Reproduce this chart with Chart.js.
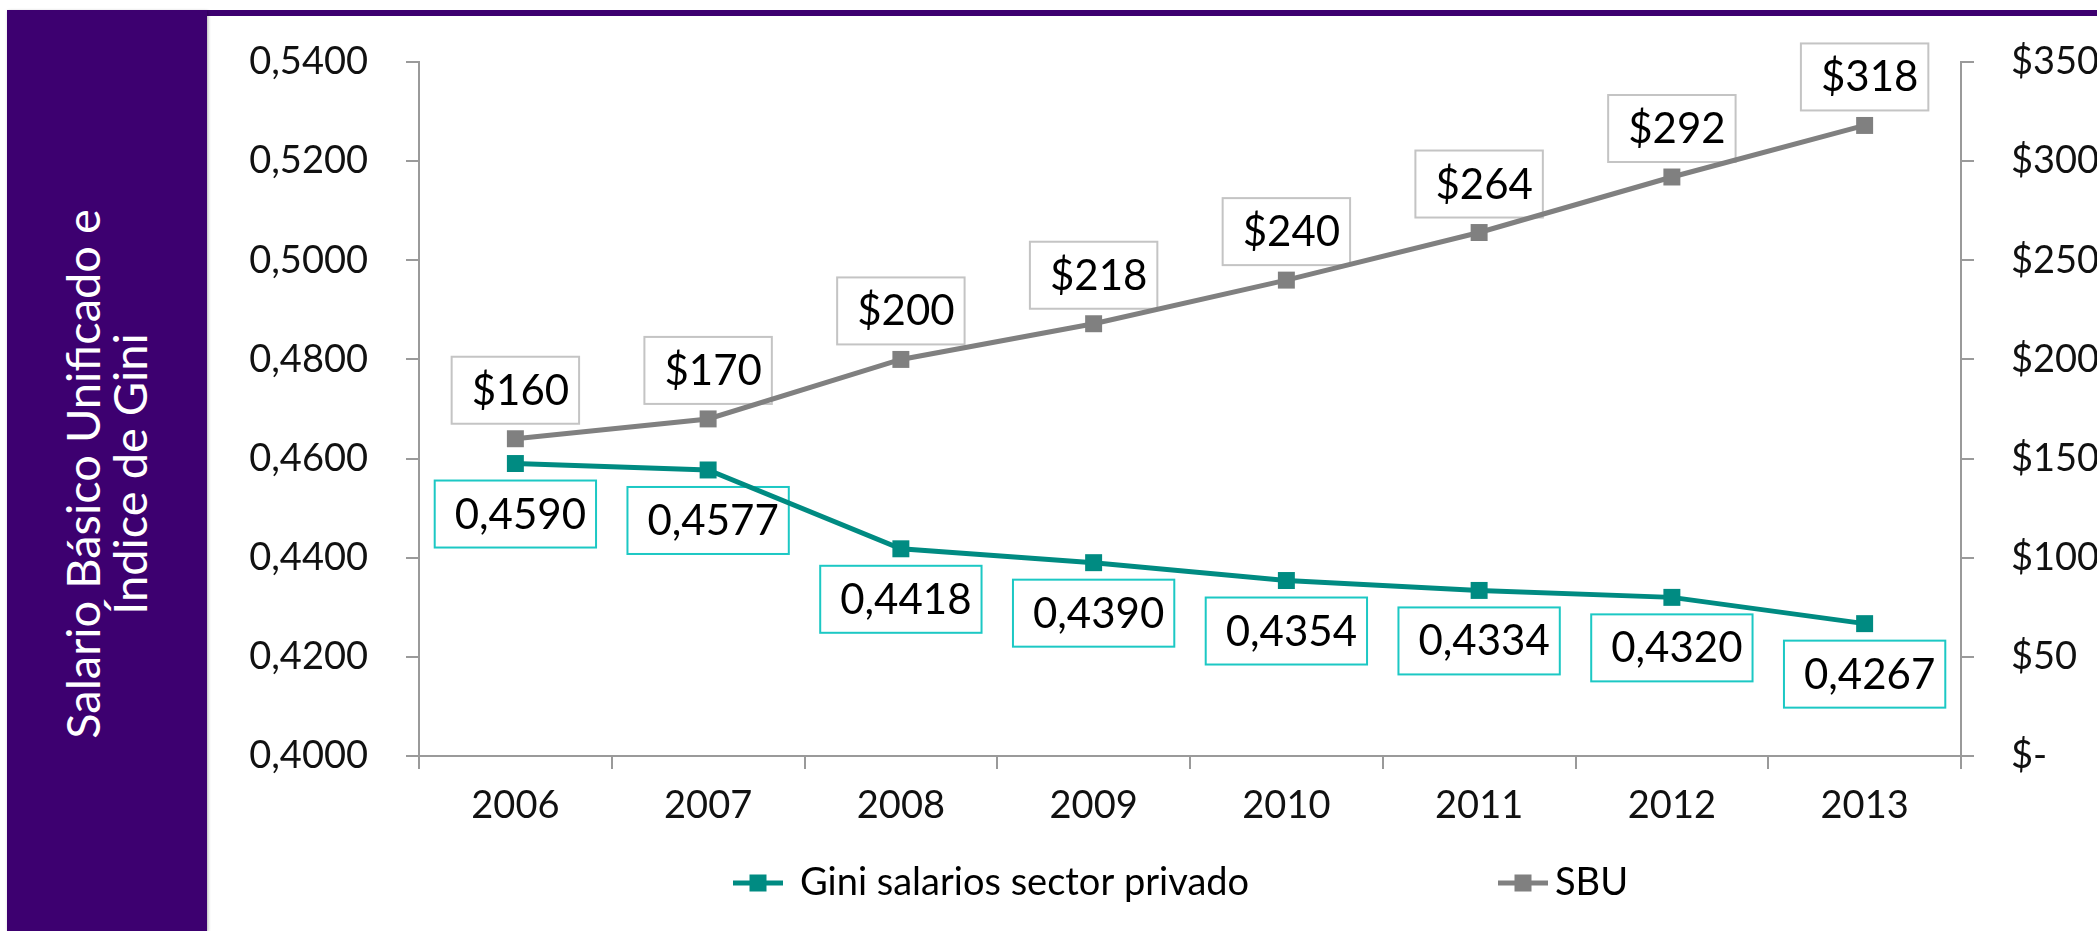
<!DOCTYPE html>
<html>
<head>
<meta charset="utf-8">
<script src="https://cdn.jsdelivr.net/npm/chart.js@4.4.1/dist/chart.umd.min.js"></script>
<style>
html, body { margin: 0; padding: 0; background: #fff; width: 2097px; height: 931px; overflow: hidden; }
#barra { position: absolute; left: 7px; top: 10px; width: 200px; height: 921px; background: #3d0070; box-shadow: 1px 1px 3px rgba(0,0,0,0.3); }
#linea { position: absolute; left: 7px; top: 10px; width: 2090px; height: 6px; background: #3d0070; }
#titulo { position: absolute; left: 106px; top: 474px; transform: translate(-50%, -50%) rotate(-90deg);
          color: #fff; font: 47px Lato; line-height: 47px; text-align: center; white-space: nowrap; }
#grafico { position: absolute; left: 207px; top: 16px; }
</style>
</head>
<body>
<div id="linea"></div>
<div id="barra"></div>
<div id="titulo">Salario Básico Unificado e<br>Índice de Gini</div>
<canvas id="grafico" width="1890" height="915"></canvas>
<script>
// Datos
const anios = ['2006', '2007', '2008', '2009', '2010', '2011', '2012', '2013'];
const giniSalarios = [0.4590, 0.4577, 0.4418, 0.4390, 0.4354, 0.4334, 0.4320, 0.4267];
const sbu = [160, 170, 200, 218, 240, 264, 292, 318];
const rangoGini = [0.40, 0.54, 0.02];   // min, max, paso
const rangoSbu = [0, 350, 50];
const nombresSeries = ['Gini salarios sector privado', 'SBU'];

const colorGini = '#008b82';
const colorSbu = '#808080';
const colorEje = '#9a9a9a';

Chart.defaults.font.family = 'Lato';

function formatoGini(v) {
    return v.toFixed(4).replace('.', ',');
}
function formatoSbu(v) {
    return v === 0 ? '$-' : '$' + v;
}

// ancho fijo del eje y sin relleno extra arriba/abajo
function fijarEje(ancho) {
    return s => {
        s.width = ancho;
        s.paddingTop = 0;
        s.paddingBottom = 0;
    };
}

// Etiquetas con recuadro sobre/bajo cada punto
const etiquetas = {
    id: 'etiquetas',
    beforeDatasetsDraw(chart) {
        const ctx = chart.ctx;
        ctx.save();
        ctx.font = '42px Lato';
        ctx.textBaseline = 'middle';
        ctx.textAlign = 'center';
        ctx.lineWidth = 2;
        chart.data.datasets.forEach((ds, i) => {
            const meta = chart.getDatasetMeta(i);
            meta.data.forEach((p, j) => {
                const texto = i === 0 ? formatoGini(ds.data[j]) : formatoSbu(ds.data[j]);
                const w = ctx.measureText(texto).width + 30;
                const h = 67;
                const top = i === 0 ? p.y + 17 : p.y - 15 - h;
                ctx.strokeStyle = i === 0 ? '#1cc8c4' : '#c4c4c4';
                ctx.strokeRect(p.x - w / 2, top, w, h);
                ctx.fillStyle = '#000';
                ctx.fillText(texto, p.x + 5, top + h / 2 + 1);
            });
        });
        ctx.restore();
    }
};

// Leyenda dibujada a mano
const leyenda = {
    id: 'leyenda',
    afterDraw(chart) {
        const ctx = chart.ctx;
        const cx = (chart.chartArea.left + chart.chartArea.right) / 2;
        const y = chart.height - 48;
        const items = [
            { x: cx - 457, color: colorGini, texto: nombresSeries[0] },
            { x: cx + 308, color: colorSbu, texto: nombresSeries[1] }
        ];
        ctx.save();
        ctx.font = '38px Lato';
        ctx.textBaseline = 'middle';
        ctx.textAlign = 'left';
        items.forEach((it, k) => {
            ctx.fillStyle = it.color;
            ctx.fillRect(it.x, y - 2.5, 50, 5);
            ctx.fillRect(it.x + 16.5, y - 8.5, 17, 17);
            ctx.fillStyle = '#000';
            ctx.fillText(it.texto, it.x + (k === 0 ? 67 : 57), y);
        });
        ctx.restore();
    }
};

const ctx = document.getElementById('grafico').getContext('2d');
new Chart(ctx, {
    type: 'line',
    data: {
        labels: anios,
        datasets: [{
            label: nombresSeries[0],
            data: giniSalarios,
            yAxisID: 'y',
            borderColor: colorGini,
            backgroundColor: colorGini,
            borderWidth: 5,
            pointStyle: 'rect',
            pointRadius: 12,
            pointBorderWidth: 0,
            tension: 0
        }, {
            label: nombresSeries[1],
            data: sbu,
            yAxisID: 'y1',
            borderColor: colorSbu,
            backgroundColor: colorSbu,
            borderWidth: 5,
            pointStyle: 'rect',
            pointRadius: 12,
            pointBorderWidth: 0,
            tension: 0
        }]
    },
    options: {
        responsive: false,
        animation: false,
        layout: { padding: { top: 46, left: 0, right: 0, bottom: 0 } },
        plugins: {
            legend: { display: false },
            tooltip: { enabled: false }
        },
        scales: {
            x: {
                offset: true,
                grid: { offset: true, drawOnChartArea: false, tickLength: 13, color: colorEje, lineWidth: 2 },
                border: { color: colorEje, width: 2 },
                ticks: { font: { size: 38 }, color: '#111', padding: 14 },
                afterFit: s => { s.height = 175; }
            },
            y: {
                position: 'left',
                min: rangoGini[0],
                max: rangoGini[1],
                ticks: {
                    stepSize: rangoGini[2],
                    callback: v => formatoGini(v),
                    font: { size: 38 },
                    color: '#111',
                    padding: 38
                },
                grid: { drawOnChartArea: false, tickLength: 13, color: colorEje, lineWidth: 2 },
                border: { color: colorEje, width: 2 },
                afterFit: fijarEje(212)
            },
            y1: {
                position: 'right',
                min: rangoSbu[0],
                max: rangoSbu[1],
                ticks: {
                    stepSize: rangoSbu[2],
                    callback: v => formatoSbu(v),
                    font: { size: 38 },
                    color: '#111',
                    padding: 37
                },
                grid: { drawOnChartArea: false, tickLength: 13, color: colorEje, lineWidth: 2 },
                border: { color: colorEje, width: 2 },
                afterFit: fijarEje(136)
            }
        }
    },
    plugins: [etiquetas, leyenda]
});
</script>
</body>
</html>
